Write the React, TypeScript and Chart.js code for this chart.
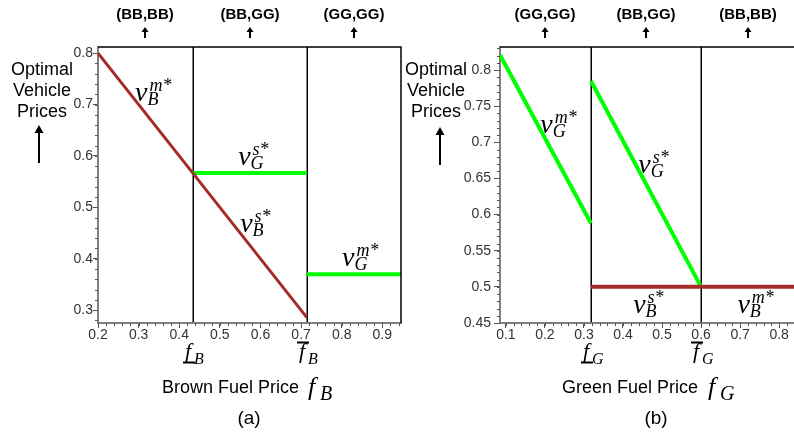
import React, { useEffect, useRef } from "react";
import { Chart, registerables } from "chart.js";

Chart.register(...registerables);
Chart.defaults.font.family = "'Liberation Sans', Arial, sans-serif";

// ---------- Panel (a): optimal vehicle prices vs. brown fuel price f_B ----------
const fBThresholds = [0.433, 0.714]; // lower f_B, upper f_B
const aRegimes = ["(BB,BB)", "(BB,GG)", "(GG,GG)"];
const aXTicks = [0.2, 0.3, 0.4, 0.5, 0.6, 0.7, 0.8, 0.9];
const aYTicks = [0.3, 0.4, 0.5, 0.6, 0.7, 0.8];
// v_B^{m*} (monopoly brown price) in the (BB,BB) regime
const aBrownMonoF = [0.2, 0.433];
const aBrownMonoV = [0.8, 0.567];
// v_B^{s*} (brown price under split market) in the (BB,GG) regime
const aBrownSplitF = [0.433, 0.714];
const aBrownSplitV = [0.567, 0.286];
// v_G^{s*} (green price under split market) in the (BB,GG) regime
const aGreenSplitF = [0.433, 0.714];
const aGreenSplitV = [0.567, 0.567];
// v_G^{m*} (monopoly green price) in the (GG,GG) regime
const aGreenMonoF = [0.714, 0.946];
const aGreenMonoV = [0.37, 0.37];

// ---------- Panel (b): optimal vehicle prices vs. green fuel price f_G ----------
const fGThresholds = [0.318, 0.6]; // lower f_G, upper f_G
const bRegimes = ["(GG,GG)", "(BB,GG)", "(BB,BB)"];
const bXTicks = [0.1, 0.2, 0.3, 0.4, 0.5, 0.6, 0.7, 0.8];
const bYTicks = [0.45, 0.5, 0.55, 0.6, 0.65, 0.7, 0.75, 0.8];
const bGreenMonoF = [0.085, 0.318];
const bGreenMonoV = [0.821, 0.588];
const bGreenSplitF = [0.318, 0.6];
const bGreenSplitV = [0.785, 0.5];
const bBrownSplitF = [0.318, 0.6];
const bBrownSplitV = [0.5, 0.5];
const bBrownMonoF = [0.6, 0.838];
const bBrownMonoV = [0.5, 0.5];

const BROWN = "#a52a2a";
const GREEN = "#00ff00";

type Series = { f: number[]; v: number[]; color: string; width: number };
type CurveLabel = { sup: string; sub: string; f: number; v: number };

type PanelSpec = {
  left: number;
  width: number;
  yAxisWidth: number;
  rightPad: number;
  xMin: number;
  xMax: number;
  yMin: number;
  yMax: number;
  xTicks: number[];
  yTicks: number[];
  xMinorStep: number;
  yMinorStep: number;
  yLabelPad: number;
  yTickLen: number;
  thresholds: number[];
  thresholdSub: string;
  regimes: string[];
  series: Series[];
  curveLabels: CurveLabel[];
  title: string;
  titleSub: string;
  tag: string;
  tagX: number;
  rightBorder: boolean;
  yTitleX: number;
  yArrowX: number;
  yArrowTop: number;
};

const panelA: PanelSpec = {
  left: 0,
  width: 402,
  yAxisWidth: 98,
  rightPad: 1,
  xMin: 0.2,
  xMax: 0.946,
  yMin: 0.275,
  yMax: 0.812,
  xTicks: aXTicks,
  yTicks: aYTicks,
  xMinorStep: 0.02,
  yMinorStep: 0.02,
  yLabelPad: 0,
  yTickLen: 5,
  thresholds: fBThresholds,
  thresholdSub: "B",
  regimes: aRegimes,
  series: [
    { f: aBrownMonoF, v: aBrownMonoV, color: BROWN, width: 3 },
    { f: aBrownSplitF, v: aBrownSplitV, color: BROWN, width: 3 },
    { f: aGreenSplitF, v: aGreenSplitV, color: GREEN, width: 4 },
    { f: aGreenMonoF, v: aGreenMonoV, color: GREEN, width: 4 },
  ],
  curveLabels: [
    { sup: "m*", sub: "B", f: 0.291, v: 0.707 },
    { sup: "s*", sub: "G", f: 0.545, v: 0.582 },
    { sup: "s*", sub: "B", f: 0.55, v: 0.452 },
    { sup: "m*", sub: "G", f: 0.801, v: 0.386 },
  ],
  title: "Brown Fuel Price",
  titleSub: "B",
  tag: "(a)",
  tagX: 249,
  rightBorder: true,
  yTitleX: 42,
  yArrowX: 39,
  yArrowTop: 125,
};

const panelB: PanelSpec = {
  left: 400,
  width: 394,
  yAxisWidth: 100,
  rightPad: 0,
  xMin: 0.085,
  xMax: 0.838,
  yMin: 0.45,
  yMax: 0.832,
  xTicks: bXTicks,
  yTicks: bYTicks,
  xMinorStep: 0.02,
  yMinorStep: 0.01,
  yLabelPad: 3,
  yTickLen: 6,
  thresholds: fGThresholds,
  thresholdSub: "G",
  regimes: bRegimes,
  series: [
    { f: bBrownSplitF, v: bBrownSplitV, color: BROWN, width: 4 },
    { f: bBrownMonoF, v: bBrownMonoV, color: BROWN, width: 4 },
    { f: bGreenMonoF, v: bGreenMonoV, color: GREEN, width: 4 },
    { f: bGreenSplitF, v: bGreenSplitV, color: GREEN, width: 4 },
  ],
  curveLabels: [
    { sup: "m*", sub: "G", f: 0.188, v: 0.713 },
    { sup: "s*", sub: "G", f: 0.439, v: 0.658 },
    { sup: "s*", sub: "B", f: 0.426, v: 0.464 },
    { sup: "m*", sub: "B", f: 0.693, v: 0.464 },
  ],
  title: "Green Fuel Price",
  titleSub: "G",
  tag: "(b)",
  tagX: 256,
  rightBorder: false,
  yTitleX: 36,
  yArrowX: 40,
  yArrowTop: 127,
};

const SERIF = "'Liberation Serif', 'Times New Roman', serif";
const SANS = "'Liberation Sans', Arial, sans-serif";

const fmt = (v: number) => String(Number(v.toFixed(2)));

// italic v with a superscript and a subscript, e.g. v_B^{m*}
function drawPriceSymbol(ctx: CanvasRenderingContext2D, x: number, y: number, sup: string, sub: string) {
  ctx.fillStyle = "#000";
  ctx.textAlign = "left";
  ctx.textBaseline = "alphabetic";
  ctx.font = `italic 28px ${SERIF}`;
  ctx.fillText("v", x, y);
  const w = ctx.measureText("v").width;
  ctx.font = `italic 18px ${SERIF}`;
  ctx.fillText(sup, x + w + 2, y - 10);
  ctx.fillText(sub, x + w, y + 4);
}

function drawUpArrow(ctx: CanvasRenderingContext2D, x: number, top: number, bottom: number, head: number, halfW: number, shaft: number) {
  ctx.fillStyle = "#000";
  ctx.strokeStyle = "#000";
  ctx.lineWidth = shaft;
  ctx.beginPath();
  ctx.moveTo(x, top + head - 1);
  ctx.lineTo(x, bottom);
  ctx.stroke();
  ctx.beginPath();
  ctx.moveTo(x, top);
  ctx.lineTo(x - halfW, top + head);
  ctx.lineTo(x + halfW, top + head);
  ctx.closePath();
  ctx.fill();
}

function makeDecor(spec: PanelSpec) {
  return {
    id: "priceDecor",
    beforeDatasetsDraw(chart: any) {
      const { ctx, chartArea } = chart;
      const xs = chart.scales.x;
      ctx.save();
      ctx.strokeStyle = "#000";
      ctx.lineWidth = 1.5;
      spec.thresholds.forEach((t) => {
        const px = Math.round(xs.getPixelForValue(t)) + 0.25;
        ctx.beginPath();
        ctx.moveTo(px, chartArea.top);
        ctx.lineTo(px, chartArea.bottom - 1);
        ctx.stroke();
      });
      ctx.restore();
    },
    afterDraw(chart: any) {
      const { ctx, chartArea } = chart;
      const xs = chart.scales.x;
      const ys = chart.scales.y;
      ctx.save();

      // frame: top edge (and right edge on the left panel)
      ctx.strokeStyle = "#000";
      ctx.lineWidth = 1.5;
      ctx.beginPath();
      ctx.moveTo(chartArea.left, chartArea.top);
      ctx.lineTo(chartArea.right, chartArea.top);
      if (spec.rightBorder) ctx.lineTo(chartArea.right, chartArea.bottom);
      ctx.stroke();

      // minor ticks
      ctx.strokeStyle = "#555";
      ctx.lineWidth = 1;
      const eps = 1e-6;
      for (let k = Math.ceil(spec.xMin / spec.xMinorStep - eps); k * spec.xMinorStep <= spec.xMax + eps; k++) {
        const v = k * spec.xMinorStep;
        const px = Math.round(xs.getPixelForValue(v)) + 0.5;
        ctx.beginPath();
        ctx.moveTo(px, chartArea.bottom);
        ctx.lineTo(px, chartArea.bottom + 3);
        ctx.stroke();
      }
      for (let k = Math.ceil(spec.yMin / spec.yMinorStep - eps); k * spec.yMinorStep <= spec.yMax + eps; k++) {
        const v = k * spec.yMinorStep;
        const py = Math.round(ys.getPixelForValue(v)) + 0.5;
        ctx.beginPath();
        ctx.moveTo(chartArea.left, py);
        ctx.lineTo(chartArea.left - 3, py);
        ctx.stroke();
      }

      // regime labels above the plot
      const bounds = [spec.xMin, ...spec.thresholds, spec.xMax];
      spec.regimes.forEach((label, i) => {
        const cx = Math.round(xs.getPixelForValue((bounds[i] + bounds[i + 1]) / 2));
        ctx.fillStyle = "#000";
        ctx.font = `bold 15px ${SANS}`;
        ctx.textAlign = "center";
        ctx.textBaseline = "alphabetic";
        ctx.fillText(label, cx, 19);
        drawUpArrow(ctx, cx, 27, 38, 5, 3.5, 2);
      });

      // vertical axis title
      ctx.fillStyle = "#000";
      ctx.font = `18px ${SANS}`;
      ctx.textAlign = "center";
      ctx.fillText("Optimal", spec.yTitleX, 75);
      ctx.fillText("Vehicle", spec.yTitleX, 96);
      ctx.fillText("Prices", spec.yTitleX, 117);
      drawUpArrow(ctx, spec.yArrowX, spec.yArrowTop, spec.yArrowTop + 38, 8, 4.5, 2);

      // curve labels
      spec.curveLabels.forEach((c) => {
        drawPriceSymbol(ctx, xs.getPixelForValue(c.f), ys.getPixelForValue(c.v), c.sup, c.sub);
      });

      // threshold markers under the axis: underlined f (lower) and overlined f (upper)
      spec.thresholds.forEach((t, i) => {
        const px = Math.round(xs.getPixelForValue(t));
        ctx.fillStyle = "#000";
        ctx.textAlign = "left";
        ctx.font = `italic 22px ${SERIF}`;
        ctx.fillText("f", px - 8, 358);
        ctx.font = `italic 16px ${SERIF}`;
        ctx.fillText(spec.thresholdSub, px + 1, 364);
        ctx.strokeStyle = "#000";
        ctx.lineWidth = 2;
        ctx.beginPath();
        if (i === 0) {
          ctx.moveTo(px - 10, 362.5);
          ctx.lineTo(px + 2, 362.5);
        } else {
          ctx.moveTo(px - 10, 342.5);
          ctx.lineTo(px + 2, 342.5);
        }
        ctx.stroke();
      });

      // horizontal axis title and panel tag
      ctx.fillStyle = "#000";
      ctx.textAlign = "left";
      ctx.font = `18px ${SANS}`;
      ctx.fillText(spec.title, 162, 393);
      ctx.font = `italic 26px ${SERIF}`;
      ctx.fillText("f", 308, 395);
      ctx.font = `italic 20px ${SERIF}`;
      ctx.fillText(spec.titleSub, 320, 400);
      ctx.font = `19px ${SANS}`;
      ctx.textAlign = "center";
      ctx.fillText(spec.tag, spec.tagX, 424);

      ctx.restore();
    },
  };
}

function PricePanel({ spec }: { spec: PanelSpec }) {
  const ref = useRef<HTMLCanvasElement>(null);

  useEffect(() => {
    const canvas = ref.current;
    if (!canvas) return;
    const chart = new Chart(canvas, {
      type: "line",
      data: {
        datasets: spec.series.map((s) => ({
          data: s.f.map((f, i) => ({ x: f, y: s.v[i] })),
          borderColor: s.color,
          backgroundColor: s.color,
          borderWidth: s.width,
          pointRadius: 0,
          fill: false,
          tension: 0,
          borderCapStyle: "butt" as const,
        })),
      },
      options: {
        animation: false,
        responsive: false,
        maintainAspectRatio: false,
        events: [],
        layout: { padding: { top: 47, left: 0, right: spec.rightPad, bottom: 0 } },
        plugins: { legend: { display: false }, tooltip: { enabled: false }, title: { display: false } },
        scales: {
          x: {
            type: "linear",
            min: spec.xMin,
            max: spec.xMax,
            afterBuildTicks: (axis: any) => {
              axis.ticks = spec.xTicks.map((value) => ({ value }));
            },
            afterFit: (axis: any) => {
              axis.height = 113;
            },
            grid: { drawOnChartArea: false, drawTicks: true, tickLength: 5, color: "#555", tickWidth: 1 },
            border: { display: true, color: "#808080", width: 2 },
            ticks: {
              autoSkip: false,
              maxRotation: 0,
              padding: 0,
              color: "#333",
              font: { size: 14, lineHeight: 1 },
              callback: (v: any) => fmt(Number(v)),
            },
          },
          y: {
            type: "linear",
            min: spec.yMin,
            max: spec.yMax,
            afterBuildTicks: (axis: any) => {
              axis.ticks = spec.yTicks.map((value) => ({ value }));
            },
            afterFit: (axis: any) => {
              axis.width = spec.yAxisWidth;
            },
            grid: { drawOnChartArea: false, drawTicks: true, tickLength: spec.yTickLen, color: "#555", tickWidth: 1 },
            border: { display: true, color: "#808080", width: 2 },
            ticks: {
              autoSkip: false,
              padding: spec.yLabelPad,
              color: "#333",
              font: { size: 14 },
              callback: (v: any) => fmt(Number(v)),
            },
          },
        },
      },
      plugins: [makeDecor(spec)],
    });
    return () => chart.destroy();
  }, [spec]);

  return (
    <canvas
      ref={ref}
      width={spec.width}
      height={436}
      style={{ position: "absolute", left: spec.left, top: 0, width: spec.width, height: 436 }}
    />
  );
}

export default function App() {
  return (
    <div style={{ position: "absolute", left: 0, top: 0, width: 794, height: 436, background: "#fff", overflow: "hidden" }}>
      <PricePanel spec={panelA} />
      <PricePanel spec={panelB} />
    </div>
  );
}
